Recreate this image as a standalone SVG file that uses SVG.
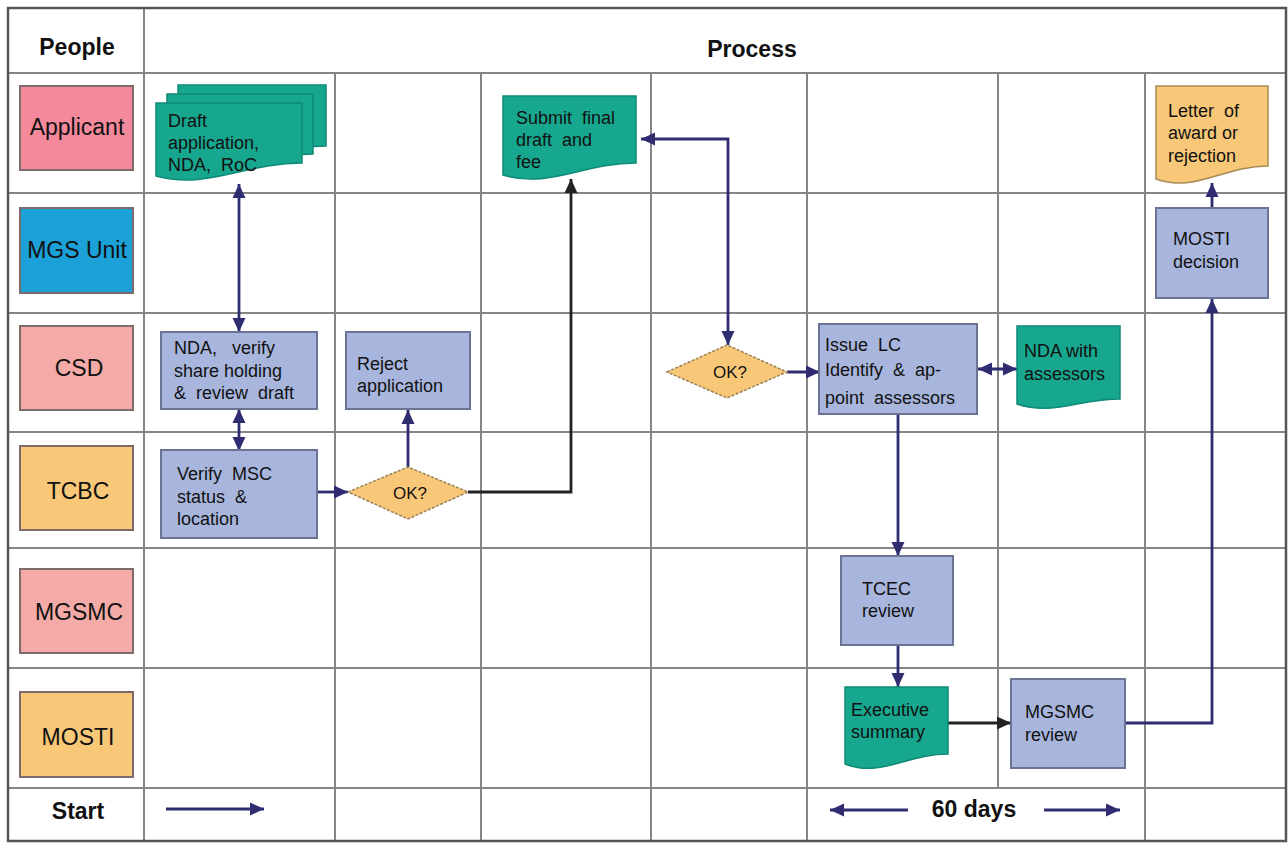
<svg xmlns="http://www.w3.org/2000/svg" width="1288" height="843" viewBox="0 0 1288 843">
<defs>
<style>
.grid{stroke:#858585;stroke-width:2;fill:none}
.border{stroke:#555;stroke-width:2.5;fill:none}
.ppl{stroke:#7d6b6b;stroke-width:2}
.plbl{font-family:"Liberation Sans",Arial,sans-serif;font-size:23px;fill:#111;text-anchor:middle}
.hdr{font-family:"Liberation Sans",Arial,sans-serif;font-size:23px;font-weight:bold;fill:#111;text-anchor:middle}
.t{font-family:"Liberation Sans",Arial,sans-serif;font-size:18px;fill:#111;white-space:pre}
.tc{font-family:"Liberation Sans",Arial,sans-serif;font-size:17px;fill:#111;text-anchor:middle}
.box{fill:#A8B6DD;stroke:#6A7393;stroke-width:2}
.doc{fill:#17A78F;stroke:#0F8A76;stroke-width:1.5}
.odoc{fill:#F8C878;stroke:#A88A55;stroke-width:1.5}
.dia{fill:#F8C878;stroke:#9B8052;stroke-width:1.5;stroke-dasharray:3 1.5}
.cn{stroke:#2F2C72;stroke-width:2.8;fill:none}
.cb{stroke:#222;stroke-width:2.8;fill:none}
</style>
<marker id="an" markerWidth="16" markerHeight="16" refX="14" refY="8" orient="auto-start-reverse" markerUnits="userSpaceOnUse"><path d="M0,1.5 L14,8 L0,14.5 Z" fill="#2F2C72"/></marker>
<marker id="ab" markerWidth="16" markerHeight="16" refX="14" refY="8" orient="auto-start-reverse" markerUnits="userSpaceOnUse"><path d="M0,1.5 L14,8 L0,14.5 Z" fill="#222"/></marker>
</defs>
<rect width="1288" height="843" fill="#fff"/>
<g id="grid">
<line class="grid" x1="144" y1="8" x2="144" y2="841"/>
<line class="grid" x1="335" y1="73" x2="335" y2="841"/>
<line class="grid" x1="481" y1="73" x2="481" y2="841"/>
<line class="grid" x1="651" y1="73" x2="651" y2="841"/>
<line class="grid" x1="807" y1="73" x2="807" y2="841"/>
<line class="grid" x1="998" y1="73" x2="998" y2="788"/>
<line class="grid" x1="1145" y1="73" x2="1145" y2="841"/>
<line class="grid" x1="8" y1="73" x2="1286" y2="73"/>
<line class="grid" x1="8" y1="193" x2="1286" y2="193"/>
<line class="grid" x1="8" y1="313" x2="1286" y2="313"/>
<line class="grid" x1="8" y1="432" x2="1286" y2="432"/>
<line class="grid" x1="8" y1="548" x2="1286" y2="548"/>
<line class="grid" x1="8" y1="668" x2="1286" y2="668"/>
<line class="grid" x1="8" y1="788" x2="1286" y2="788"/>
<rect class="border" x="8" y="8" width="1278" height="833"/>
</g>
<g id="headers">
<text class="hdr" x="77" y="55">People</text>
<text class="hdr" x="752" y="57">Process</text>
<text class="hdr" x="78" y="819">Start</text>
<text class="hdr" x="974" y="817">60 days</text>
</g>
<g id="people">
<g id="p-applicant"><rect class="ppl" x="20" y="86" width="113" height="84" fill="#F4899C"/><text class="plbl" x="77" y="135">Applicant</text></g>
<g id="p-mgsunit"><rect class="ppl" x="20" y="208" width="113" height="85" fill="#1BA0D7"/><text class="plbl" x="77" y="258">MGS Unit</text></g>
<g id="p-csd"><rect class="ppl" x="20" y="326" width="113" height="84" fill="#F4AAA6"/><text class="plbl" x="79" y="376">CSD</text></g>
<g id="p-tcbc"><rect class="ppl" x="20" y="446" width="113" height="84" fill="#F8C878"/><text class="plbl" x="78" y="499">TCBC</text></g>
<g id="p-mgsmc"><rect class="ppl" x="20" y="569" width="113" height="84" fill="#F4AAA6"/><text class="plbl" x="79" y="620">MGSMC</text></g>
<g id="p-mosti"><rect class="ppl" x="20" y="692" width="113" height="85" fill="#F8C878"/><text class="plbl" x="78" y="745">MOSTI</text></g>
</g>
<g id="connectors">
<line class="cn" x1="239" y1="184" x2="239" y2="332" marker-start="url(#an)" marker-end="url(#an)"/>
<line class="cn" x1="239" y1="409" x2="239" y2="451" marker-start="url(#an)" marker-end="url(#an)"/>
<line class="cn" x1="317" y1="492" x2="348" y2="492" marker-end="url(#an)"/>
<line class="cn" x1="408" y1="467" x2="408" y2="410" marker-end="url(#an)"/>
<polyline class="cb" points="468,492 571,492 571,179" marker-end="url(#ab)"/>
<polyline class="cn" points="641,139 728,139 728,345" marker-start="url(#an)" marker-end="url(#an)"/>
<line class="cn" x1="787" y1="372" x2="820" y2="372" marker-end="url(#an)"/>
<line class="cn" x1="978" y1="369" x2="1017" y2="369" marker-start="url(#an)" marker-end="url(#an)"/>
<line class="cn" x1="898" y1="414" x2="898" y2="556" marker-end="url(#an)"/>
<line class="cn" x1="898" y1="645" x2="898" y2="687" marker-end="url(#an)"/>
<line class="cb" x1="948" y1="723" x2="1011" y2="723" marker-end="url(#ab)"/>
<polyline class="cn" points="1125,723 1212,723 1212,299" marker-end="url(#an)"/>
<line class="cn" x1="1212" y1="208" x2="1212" y2="183" marker-end="url(#an)"/>
<line class="cn" x1="166" y1="809" x2="264" y2="809" stroke-width="4" marker-end="url(#an)"/>
<line class="cn" x1="908" y1="810" x2="830" y2="810" stroke-width="4" marker-end="url(#an)"/>
<line class="cn" x1="1044" y1="810" x2="1120" y2="810" stroke-width="4" marker-end="url(#an)"/>
</g>
<g id="n-draft">
<path class="doc" d="M178,85 H326 V146 C266.8,146 229.8,173 178,159 Z"/>
<path class="doc" d="M167,94 H313 V154 C254.6,154 218.1,181 167,167 Z"/>
<path class="doc" d="M156,103 H302 V163 C243.6,163 207.1,190 156,176 Z"/>
<text class="t" x="168" y="127">Draft</text>
<text class="t" x="168" y="149">application,</text>
<text class="t" x="168" y="171" xml:space="preserve">NDA,  RoC</text>
</g>
<g id="n-submit">
<path class="doc" d="M503,96 H636 V163 C582.8,163 549.5,189 503,175 Z"/>
<text class="t" x="516" y="124" xml:space="preserve">Submit  final</text>
<text class="t" x="516" y="146" xml:space="preserve">draft  and</text>
<text class="t" x="516" y="168">fee</text>
</g>
<g id="n-letter">
<path class="odoc" d="M1156,86 H1268 V166 C1223.2,166 1195.2,193 1156,179 Z"/>
<text class="t" x="1168" y="117" xml:space="preserve">Letter  of</text>
<text class="t" x="1168" y="139">award or</text>
<text class="t" x="1168" y="162">rejection</text>
</g>
<g id="n-mosti-decision">
<rect class="box" x="1156" y="208" width="112" height="90"/>
<text class="t" x="1173" y="245">MOSTI</text>
<text class="t" x="1173" y="268">decision</text>
</g>
<g id="n-nda-verify">
<rect class="box" x="161" y="332" width="156" height="77"/>
<text class="t" x="174" y="354" xml:space="preserve">NDA,   verify</text>
<text class="t" x="174" y="377">share holding</text>
<text class="t" x="174" y="399" xml:space="preserve">&amp;  review  draft</text>
</g>
<g id="n-reject">
<rect class="box" x="346" y="332" width="124" height="77"/>
<text class="t" x="357" y="370">Reject</text>
<text class="t" x="357" y="392">application</text>
</g>
<g id="n-verify-msc">
<rect class="box" x="161" y="450" width="156" height="88"/>
<text class="t" x="177" y="480" xml:space="preserve">Verify  MSC</text>
<text class="t" x="177" y="503" xml:space="preserve">status  &amp;</text>
<text class="t" x="177" y="525">location</text>
</g>
<g id="n-ok1">
<polygon class="dia" points="348,492 408,467 468,492 408,519"/>
<text class="tc" x="410" y="499">OK?</text>
</g>
<g id="n-ok2">
<polygon class="dia" points="667,372 727,345 787,372 727,398"/>
<text class="tc" x="730" y="378">OK?</text>
</g>
<g id="n-issue-lc">
<rect class="box" x="819" y="324" width="158" height="90"/>
<text class="t" x="825" y="351" xml:space="preserve">Issue  LC</text>
<text class="t" x="825" y="376" xml:space="preserve">Identify  &amp;  ap-</text>
<text class="t" x="825" y="404" xml:space="preserve">point  assessors</text>
</g>
<g id="n-nda-assessors">
<path class="doc" d="M1017,326 H1120 V399 C1078.8,399 1053,416 1017,404 Z"/>
<text class="t" x="1024" y="357">NDA with</text>
<text class="t" x="1024" y="380">assessors</text>
</g>
<g id="n-tcec">
<rect class="box" x="841" y="556" width="112" height="89"/>
<text class="t" x="862" y="595">TCEC</text>
<text class="t" x="862" y="617">review</text>
</g>
<g id="n-exec">
<path class="doc" d="M845,687 H948 V754 C906.8,754 881,778 845,764 Z"/>
<text class="t" x="851" y="716">Executive</text>
<text class="t" x="851" y="738">summary</text>
</g>
<g id="n-mgsmc-review">
<rect class="box" x="1011" y="679" width="114" height="89"/>
<text class="t" x="1025" y="718">MGSMC</text>
<text class="t" x="1025" y="741">review</text>
</g>
</svg>
